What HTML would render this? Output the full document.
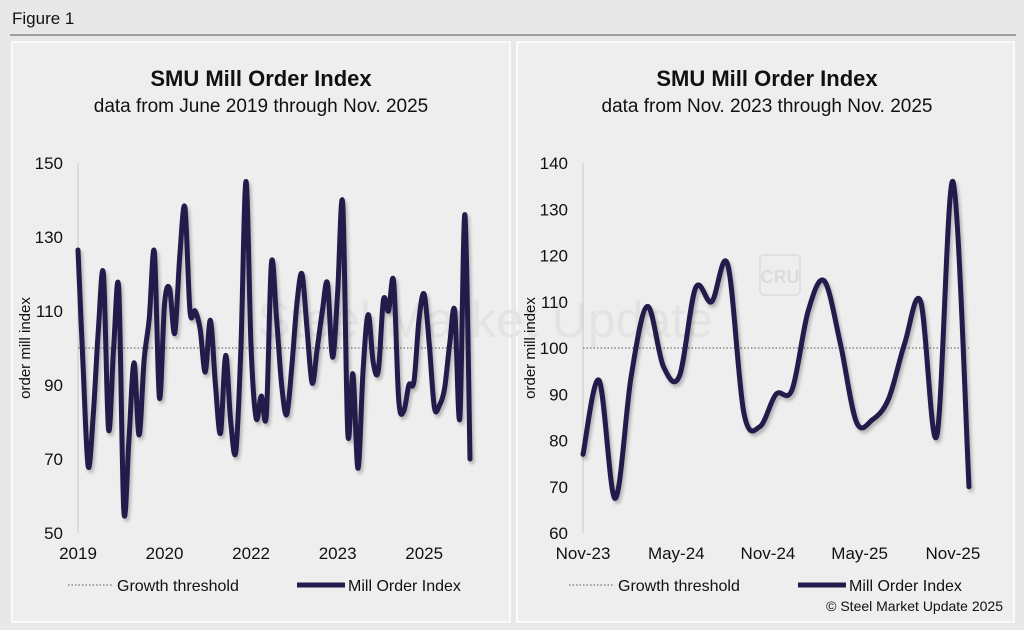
<!DOCTYPE html>
<html><head><meta charset="utf-8"><style>
body{margin:0;width:1024px;height:630px;background:#e8e8e8;font-family:"Liberation Sans",sans-serif;overflow:hidden}
svg{position:absolute;left:0;top:0}
</style></head><body>
<svg id="c" width="1024" height="630">
<defs><filter id="sh" x="-5%" y="-5%" width="110%" height="110%"><feDropShadow dx="2" dy="3" stdDeviation="1.5" flood-color="#000" flood-opacity="0.25"/></filter></defs>
<rect x="0" y="0" width="1024" height="630" fill="#e8e8e8"/>
<text x="12" y="24" font-size="17" fill="#111">Figure 1</text>
<line x1="10" y1="35" x2="1016" y2="35" stroke="#555" stroke-width="1"/>
<rect x="12" y="42" width="498" height="580" fill="#eeeeee" stroke="#fff" stroke-width="1.5"/>
<rect x="517" y="42" width="497" height="580" fill="#eeeeee" stroke="#fff" stroke-width="1.5"/>
<text x="485" y="337" font-size="50" fill="#e3e3e3" text-anchor="middle">Steel Market Update</text>
<rect x="760" y="255" width="40" height="40" rx="4" fill="none" stroke="#e0e0e0" stroke-width="2"/>
<text x="780" y="283" font-size="18" font-weight="bold" fill="#dcdcdc" text-anchor="middle">CRU</text>
<g id="g"></g>
</svg>
<script>
const leftValues=[126.5,95,68,82,105,120,78,100,116,56,75,96,76.5,97,108,126,86.5,112,116,104,125,138,110,110,105,93.5,107.5,90,77,98,80,72,100,145,100,81,87,82,123,108,90,82,95,112,120,105,90.5,100,110,117.5,97.5,115,139,77,93,67.5,94,109,96,94,113,110,118,86,83,90,91,108,114.5,101,84,84.5,89,101,110,81,136,70];
const rightValues=leftValues.slice(53);
const leftTicks=[50,70,90,110,130,150];
const rightTicks=[60,70,80,90,100,110,120,130,140];
const leftXLabels=["2019","2020","2022","2023","2025"];
const leftXIdx=[0,17,34,51,68];
const rightXLabels=["Nov-23","May-24","Nov-24","May-25","Nov-25"];
const rightXIdx=[0,5.8,11.5,17.2,23];
const threshold=100;
const NS="http://www.w3.org/2000/svg";
const g=document.getElementById('g');
function el(t,a,txt){const e=document.createElementNS(NS,t);for(const k in a)e.setAttribute(k,a[k]);if(txt!==undefined)e.textContent=txt;g.appendChild(e);return e;}
function path(pts){let d=`M${pts[0][0]},${pts[0][1]}`;for(let i=0;i<pts.length-1;i++){const p0=pts[Math.max(0,i-1)],p1=pts[i],p2=pts[i+1],p3=pts[Math.min(pts.length-1,i+2)];const t=6;d+=` C${p1[0]+(p2[0]-p0[0])/t},${p1[1]+(p2[1]-p0[1])/t} ${p2[0]-(p3[0]-p1[0])/t},${p2[1]-(p3[1]-p1[1])/t} ${p2[0]},${p2[1]}`;}return d;}
function chart(o){
 const x=i=>o.x0+i*(o.x1-o.x0)/(o.vals.length-1);
 const y=v=>o.yB-(v-o.ymin)*(o.yB-o.yT)/(o.ymax-o.ymin);
 let e=el('text',{x:o.cx,y:86,'font-size':22,'font-weight':'bold','text-anchor':'middle',fill:'#111'},'SMU Mill Order Index');
 
 e=el('text',{x:o.cx,y:112,'font-size':19,'text-anchor':'middle',fill:'#111'},o.sub);
 
 e=el('line',{x1:o.x0,y1:o.yT,x2:o.x0,y2:o.yB,stroke:'#c8c8c8','stroke-width':1});
 
 o.ticks.forEach(t=>{const l=el('text',{x:o.x0-15,y:y(t)+6,'font-size':17,'text-anchor':'end',fill:'#111'},t);
  });
 e=el('text',{x:0,y:0,'font-size':15,'text-anchor':'middle',fill:'#111',transform:`translate(${o.yt},${(o.yT+o.yB)/2}) rotate(-90)`},'order mill index');
 
 o.xl.forEach((s,k)=>{const l=el('text',{x:x(o.xi[k]),y:559,'font-size':17,'text-anchor':'middle',fill:'#111'},s);
  });
 e=el('line',{x1:o.x0,y1:y(threshold),x2:o.x1,y2:y(threshold),stroke:'#888','stroke-width':1.5,'stroke-dasharray':'1.5 2'});
 
 e=el('path',{d:path(o.vals.map((v,i)=>[x(i),y(v)])),fill:'none',stroke:'#221b4b','stroke-width':5,'stroke-linejoin':'round','stroke-linecap':'round',filter:'url(#sh)'});
 
 e=el('line',{x1:o.lg,y1:585,x2:o.lg+45,y2:585,stroke:'#888','stroke-width':1.5,'stroke-dasharray':'1.5 2'});
 
 e=el('text',{x:o.lg+49,y:591,'font-size':16,fill:'#111'},'Growth threshold');
 
 e=el('line',{x1:o.lg+229,y1:585,x2:o.lg+277,y2:585,stroke:'#221b4b','stroke-width':5});
 
 e=el('text',{x:o.lg+280,y:591,'font-size':16,fill:'#111'},'Mill Order Index');
 
}
chart({p:'left',vals:leftValues,x0:78,x1:470,yT:163,yB:533,ymin:50,ymax:150,ticks:leftTicks,xl:leftXLabels,xi:leftXIdx,cx:261,sub:'data from June 2019 through Nov. 2025',yt:30,lg:68});
chart({p:'right',vals:rightValues,x0:583,x1:969,yT:163,yB:533,ymin:60,ymax:140,ticks:rightTicks,xl:rightXLabels,xi:rightXIdx,cx:767,sub:'data from Nov. 2023 through Nov. 2025',yt:535,lg:569});
const cp=el('text',{x:1003,y:611,'font-size':14,'text-anchor':'end',fill:'#111'},'© Steel Market Update 2025');


</script>
</body></html>
